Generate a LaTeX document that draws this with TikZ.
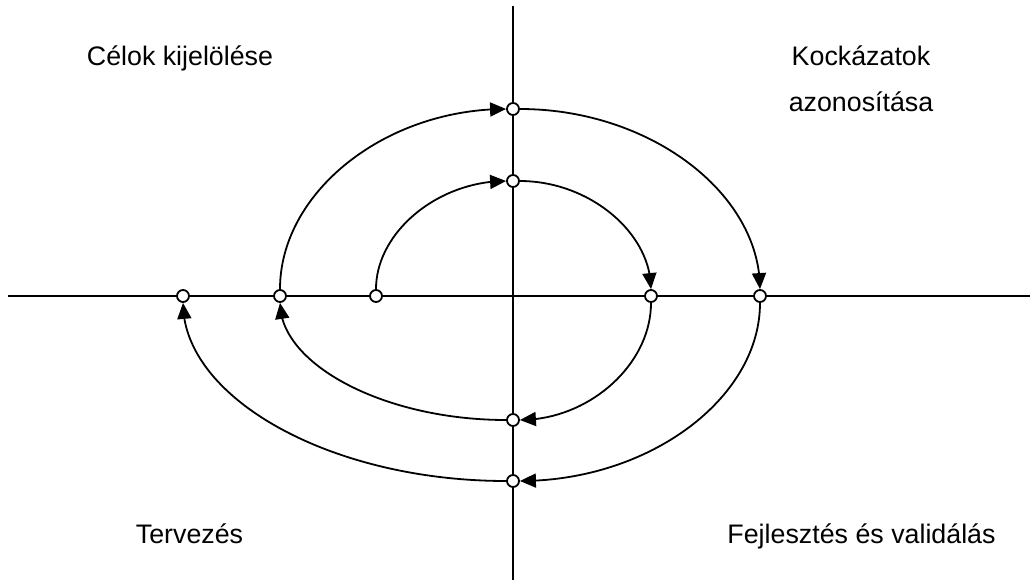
\documentclass[tikz,border=0pt]{standalone}
\usepackage{fontspec}
\setmainfont{Liberation Sans}
\usetikzlibrary{arrows.meta,bending}
\begin{document}
\begin{tikzpicture}[x=1pt,y=-1pt,
  axis/.style={line width=1.8pt},
  pt/.style={circle,draw,fill=white,line width=1.8pt,inner sep=0pt,minimum size=12pt},
  flow/.style={line width=1.8pt,-{Triangle[length=16pt,width=14pt]}},
  lbl/.style={font=\fontsize{26.8}{32}\selectfont,inner sep=0pt,anchor=base}]
\useasboundingbox (0,0) rectangle (1035,585);
\coordinate (top) at (513,6);
\coordinate (bot) at (513,580);
\coordinate (lft) at (8,296);
\coordinate (rgt) at (1030,296);
\draw[axis] (top) -- (bot);
\draw[axis] (lft) -- (rgt);
\node[pt] (h1) at (183,296) {};
\node[pt] (h2) at (280,296) {};
\node[pt] (h3) at (376,296) {};
\node[pt] (h4) at (651,296) {};
\node[pt] (h5) at (760,296) {};
\node[pt] (v1) at (513,109) {};
\node[pt] (v2) at (513,181) {};
\node[pt] (v3) at (513,420) {};
\node[pt] (v4) at (513,481) {};
\draw[flow] (h3) .. controls +(0,-63.5) and +(-75.6,0) .. (v2);
\draw[flow] (v2) .. controls +(76.2,0) and +(0,-63.5) .. (h4);
\draw[flow] (h4) .. controls +(0,68.5) and +(76.2,0) .. (v3);
\draw[flow] (v3) .. controls +(-128.7,0) and +(0,68.5) .. (h2);
\draw[flow] (h2) .. controls +(0,-103.3) and +(-128.7,0) .. (v1);
\draw[flow] (v1) .. controls +(136.4,0) and +(0,-103.3) .. (h5);
\draw[flow] (h5) .. controls +(0,102.2) and +(136.4,0) .. (v4);
\draw[flow] (v4) .. controls +(-182.3,0) and +(0,102.2) .. (h1);
\node[lbl] (t1) at (180,66) {Célok kijelölése};
\node[lbl] (t2) at (861,66) {Kockázatok};
\node[lbl] (t3) at (861,112) {azonosítása};
\node[lbl] (t4) at (189.5,543) {Tervezés};
\node[lbl] (t5) at (861.5,543) {Fejlesztés és validálás};
\end{tikzpicture}
\end{document}
